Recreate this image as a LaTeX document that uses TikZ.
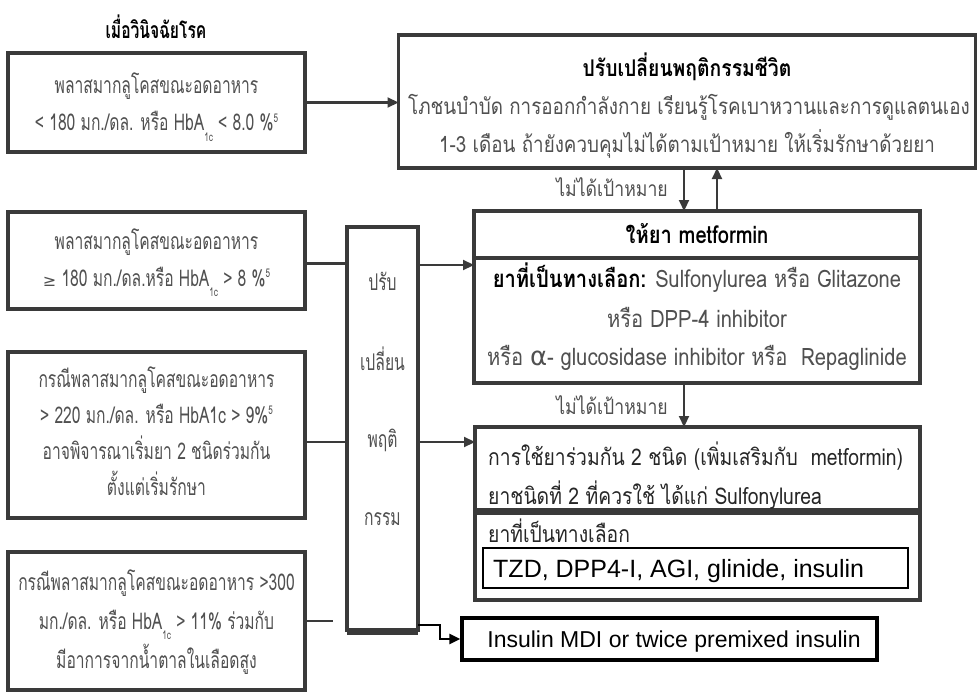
\documentclass[tikz,border=0pt]{standalone}
\usepackage{fontspec}
\usetikzlibrary{arrows.meta,calc}
% Thai faces: a narrow cut for the left column, a wider cut for the right
\newfontfamily\thai[Script=Thai,FakeStretch=0.84]{Loma}
\newfontfamily\thain[Script=Thai,FakeStretch=0.68]{Loma}
\newfontfamily\dejavu{DejaVu Sans}
\newfontfamily\arial{Liberation Sans}
\definecolor{edge}{HTML}{3A3A3A}
\definecolor{txtgray}{HTML}{505050}
\definecolor{txtdark}{HTML}{262626}
\newcommand{\lowsub}[1]{\raisebox{-10pt}{\fontsize{12}{12}\selectfont #1}}
\newcommand{\highsup}[1]{\raisebox{9pt}{\fontsize{12}{12}\selectfont #1}}

\tikzset{
  frame/.style={draw=edge, line width=3.2pt, inner sep=0pt, outer sep=0pt},
  link/.style={draw=edge, line width=2.2pt},
  arrowed/.style={link, -{Triangle[length=11pt,width=10pt]}},
  th/.style={font=\thai\fontsize{21}{21}\selectfont, text=txtgray, inner sep=0pt, anchor=base},
  thl/.style={th, font=\thain\fontsize{23}{23}\selectfont},
  thr/.style={th, font=\thai\fontsize{24}{24}\selectfont},
  tht/.style={th, font=\thai\fontsize{22.4}{22.4}\selectfont},
  thd/.style={th, font=\thai\fontsize{23}{23}\selectfont, text=txtdark, anchor=base west},
}

\begin{document}
\begin{tikzpicture}[x=1pt,y=-1pt]
\useasboundingbox (0,0) rectangle (978,693);

% ---- boxes ----
\node[frame, minimum width=297pt, minimum height=99pt]  (b1)   at (156.5,102.5) {};
\node[frame, minimum width=577pt, minimum height=133pt] (top)  at (687,101.5) {};
\node[frame, minimum width=297pt, minimum height=97pt]  (b2)   at (156.5,260.5) {};
\node[frame, minimum width=297pt, minimum height=166pt] (b3)   at (156.5,435) {};
\node[frame, minimum width=297pt, minimum height=138pt] (b4)   at (156.5,621) {};
\node[frame, minimum width=71pt,  minimum height=403pt] (vbox) at (382.5,428.5) {};
\node[frame, minimum width=446pt, minimum height=172pt] (metf) at (697,297) {};
\node[frame, minimum width=445pt, minimum height=83pt]  (combo) at (697.5,468.5) {};
\node[frame, minimum width=445pt, minimum height=87pt]  (alt)  at (697.5,556.5) {};
\node[draw=black, line width=1.3pt, fill=white, inner sep=0pt, minimum width=425pt, minimum height=40pt] (tzd) at (695.5,568) {};
\node[draw=black, line width=3.4pt, inner sep=0pt, minimum width=415pt, minimum height=42pt] (ins) at (669.5,639) {};

% divider of the metformin box and heavy foot of the middle column
\draw[edge, line width=3.2pt] (metf.west |- 0,258) -- (metf.east |- 0,258);
\draw[edge, line width=7pt] ([yshift=-1pt]vbox.south west) -- ([yshift=-1pt]vbox.south east);

% ---- texts ----
\node[thl, font=\thain\bfseries\fontsize{23}{23}\selectfont, text=black] (title) at (156,39) {เมื่อวินิจฉัยโรค};

\node[thl] (b1a) at (156.5,94)  {พลาสมากลูโคสขณะอดอาหาร};
\node[thl] (b1b) at (156.5,131) {< 180 มก./ดล. หรือ HbA\lowsub{1c} < 8.0 \%\highsup{5}};

\node[tht, font=\thai\bfseries\fontsize{23}{23}\selectfont, text=black] (topa) at (687,77) {ปรับเปลี่ยนพฤติกรรมชีวิต};
\node[tht] (topb) at (689,114) {โภชนบำบัด การออกกำลังกาย เรียนรู้โรคเบาหวานและการดูแลตนเอง};
\node[tht] (topc) at (687,152) {1-3 เดือน ถ้ายังควบคุมไม่ได้ตามเป้าหมาย ให้เริ่มรักษาด้วยยา};

\node[thl] (b2a) at (156.5,249) {พลาสมากลูโคสขณะอดอาหาร};
\node[thl] (b2b) at (156.5,286) {{\dejavu\fontsize{16}{16}\selectfont ≥} 180 มก./ดล.หรือ HbA\lowsub{1c} > 8 \%\highsup{5}};

\node[thl] (v1) at (382.5,290) {ปรับ};
\node[thl] (v2) at (382.5,370) {เปลี่ยน};
\node[thl] (v3) at (382.5,447) {พฤติ};
\node[thl] (v4) at (382.5,525) {กรรม};

\node[thr, font=\thai\bfseries\fontsize{24}{24}\selectfont, text=black] (ma) at (697,243) {ให้ยา metformin};
\node[thr] (mb) at (697,287) {{\bfseries\color{black}ยาที่เป็นทางเลือก:} Sulfonylurea หรือ Glitazone};
\node[thr] (mc) at (697,327) {หรือ DPP-4 inhibitor};
\node[thr] (md) at (697,365) {หรือ {\dejavu\fontsize{26}{26}\selectfont α}- glucosidase inhibitor หรือ~~Repaglinide};

\node[thl] (b3a) at (156.5,387) {กรณีพลาสมากลูโคสขณะอดอาหาร};
\node[thl] (b3b) at (156.5,423) {> 220 มก./ดล. หรือ HbA1c > 9\%\highsup{5}};
\node[thl] (b3c) at (156.5,459) {อาจพิจารณาเริ่มยา 2 ชนิดร่วมกัน};
\node[thl] (b3d) at (156.5,495) {ตั้งแต่เริ่มรักษา};

\node[th, anchor=base east] (lab1) at (668,196) {ไม่ได้เป้าหมาย};
\node[th, anchor=base east] (lab2) at (668,414) {ไม่ได้เป้าหมาย};

\node[thd] (ca) at (488,465) {การใช้ยาร่วมกัน 2 ชนิด (เพิ่มเสริมกับ~~metformin)};
\node[thd] (cb) at (488,504) {ยาชนิดที่ 2 ที่ควรใช้ ได้แก่ Sulfonylurea};
\node[thd] (cc) at (488,542) {ยาที่เป็นทางเลือก};
\node[font=\arial\fontsize{25}{25}\selectfont, inner sep=0pt, anchor=base west] (tzdt) at (493,577) {TZD, DPP4-I, AGI, glinide, insulin};

\node[thl] (b4a) at (156.5,590) {กรณีพลาสมากลูโคสขณะอดอาหาร >300};
\node[thl] (b4b) at (156.5,629) {มก./ดล. หรือ HbA\lowsub{1c} > 11\% ร่วมกับ};
\node[thl] (b4c) at (156.5,668) {มีอาการจากน้ำตาลในเลือดสูง};

\node[font=\arial\fontsize{23}{23}\selectfont, inner sep=0pt, anchor=base] (inst) at (674,647) {Insulin MDI or twice premixed insulin};

% ---- connectors ----
\draw[arrowed] (b1.east) -- (b1.east -| top.west);
\draw[link] ([yshift=-3pt]b2.east) -- ([yshift=-3pt]b2.east -| vbox.west);
\draw[link] ([yshift=-7pt]b3.east) -- ([yshift=-7pt]b3.east -| vbox.west);
\coordinate (b4end) at ([xshift=28pt]b4.east);
\draw[link] (b4.east) -- (b4end);

\coordinate (mIn) at ([yshift=32pt]metf.west);
\draw[arrowed] (mIn -| vbox.east) -- (mIn);
\coordinate (cIn) at ([yshift=26.5pt]combo.west);
\draw[arrowed] (cIn -| vbox.east) -- (cIn);

\coordinate (dn1) at ([xshift=-3pt]top.south);
\draw[arrowed] (dn1) -- (dn1 |- metf.north);
\coordinate (up1) at ([xshift=30pt]top.south);
\draw[arrowed] (up1 |- metf.north) -- (up1);
\coordinate (dn2) at ([xshift=-13pt]metf.south);
\draw[arrowed] (dn2) -- (dn2 |- combo.north);

\draw[draw=black, line width=2.8pt, -{Triangle[length=11pt,width=10pt]}]
  ([yshift=5pt]vbox.south east) -- ++(22,0) |- (ins.west);
\end{tikzpicture}
\end{document}
